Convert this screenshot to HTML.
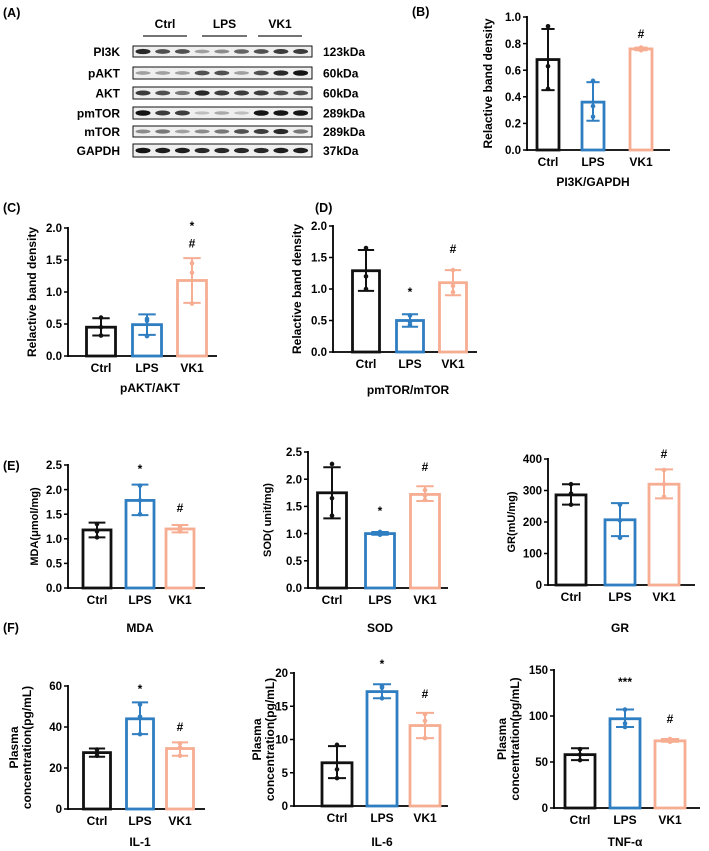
<!DOCTYPE html>
<html><head><meta charset="utf-8"><style>
html,body{margin:0;padding:0;background:#fff;}
svg{display:block;font-family:"Liberation Sans",Arial,sans-serif;font-weight:bold;}
</style></head><body>
<svg id="fig" width="709" height="851" viewBox="0 0 709 851" xmlns="http://www.w3.org/2000/svg">
<g id="blot"></g>
<g id="charts"></g>
</svg>
<script>
// ---------- data ----------
const categories = ["Ctrl", "LPS", "VK1"];
const colors = ["#111111", "#2f7ec1", "#f6ad92"];

const pi3kMean = [0.68, 0.36, 0.76];
const pi3kLo = [0.45, 0.22, 0.75];
const pi3kHi = [0.91, 0.51, 0.77];
const pi3kPts = [[0.93, 0.63, 0.46], [0.52, 0.33, 0.25], [0.77, 0.76, 0.75]];

const paktMean = [0.45, 0.49, 1.18];
const paktLo = [0.32, 0.33, 0.83];
const paktHi = [0.59, 0.65, 1.53];
const paktPts = [[0.60, 0.45, 0.32], [0.58, 0.55, 0.31], [1.45, 1.30, 0.82]];

const mtorMean = [1.29, 0.50, 1.10];
const mtorLo = [0.97, 0.40, 0.90];
const mtorHi = [1.62, 0.60, 1.30];
const mtorPts = [[1.65, 1.20, 1.00], [0.58, 0.48, 0.43], [1.30, 1.05, 0.95]];

const mdaMean = [1.18, 1.78, 1.20];
const mdaLo = [1.03, 1.48, 1.13];
const mdaHi = [1.33, 2.10, 1.28];
const mdaPts = [[1.30, 1.15, 1.03], [2.08, 1.78, 1.50], [1.25, 1.20, 1.15]];

const sodMean = [1.75, 1.00, 1.72];
const sodLo = [1.28, 0.98, 1.60];
const sodHi = [2.22, 1.03, 1.87];
const sodPts = [[2.28, 1.65, 1.33], [1.03, 1.00, 0.98], [1.80, 1.70, 1.62]];

const grMean = [286, 207, 320];
const grLo = [255, 155, 275];
const grHi = [320, 260, 367];
const grPts = [[320, 290, 255], [255, 205, 150], [365, 320, 280]];

const il1Mean = [27.5, 44, 29.5];
const il1Lo = [25.5, 36.5, 26];
const il1Hi = [29.5, 52, 32.5];
const il1Pts = [[29, 26, 27.5], [51, 45, 36.5], [32, 30, 26]];

const il6Mean = [6.5, 17.2, 12.1];
const il6Lo = [4.2, 16.2, 10.2];
const il6Hi = [9.0, 18.3, 14.0];
const il6Pts = [[9.2, 5.5, 4.2], [18.0, 17.8, 16.2], [13.8, 12.8, 10.2]];

const tnfMean = [58, 97, 73];
const tnfLo = [52, 88, 72];
const tnfHi = [65, 107, 75];
const tnfPts = [[64, 58, 52], [107, 92, 88], [75, 73, 72]];

const ticks1 = [0, 0.2, 0.4, 0.6, 0.8, 1.0];
const ticks2 = [0, 0.5, 1.0, 1.5, 2.0];
const ticks25 = [0, 0.5, 1.0, 1.5, 2.0, 2.5];
const ticks400 = [0, 100, 200, 300, 400];
const ticks60 = [0, 20, 40, 60];
const ticks20 = [0, 5, 10, 15, 20];
const ticks150 = [0, 50, 100, 150];

// annotations: [category index, text, value level]
const pi3kAnn = [[2, "#", 0.88]];
const paktAnn = [[2, "#", 1.77], [2, "*", 2.05]];
const mtorAnn = [[1, "*", 0.97], [2, "#", 1.65]];
const mdaAnn = [[1, "*", 2.44], [2, "#", 1.65]];
const sodAnn = [[1, "*", 1.43], [2, "#", 2.24]];
const grAnn = [[2, "#", 419]];
const il1Ann = [[1, "*", 59], [2, "#", 40.5]];
const il6Ann = [[1, "*", 21.5], [2, "#", 17]];
const tnfAnn = [[1, "***", 138], [2, "#", 98]];

const NS = "http://www.w3.org/2000/svg";
function mk(tag, attrs, parent, text) {
  const e = document.createElementNS(NS, tag);
  for (const k in attrs) e.setAttribute(k, attrs[k]);
  if (text !== undefined) e.textContent = text;
  parent.appendChild(e);
  return e;
}

// ---------- blot ----------
const blot = document.getElementById("blot");
const lbl = mk("text", {x: 3, y: 17, "font-size": 12.5}, blot, "(A)");


const groups = [["Ctrl", 143, 187], ["LPS", 202, 247], ["VK1", 258, 302]];
groups.forEach(g => {
  const t = mk("text", {x: (g[1] + g[2]) / 2, y: 28, "font-size": 12, "text-anchor": "middle"}, blot, g[0]);
  
  
  const l = mk("line", {x1: g[1], x2: g[2], y1: 36, y2: 36, stroke: "#222", "stroke-width": 1.2}, blot);
  
  
});
const rows = [
  ["PI3K", "123kDa", 46, 57, [0.9,0.7,0.7,0.3,0.4,0.6,0.7,0.8,0.8]],
  ["pAKT", "60kDa", 67, 79, [0.3,0.3,0.3,0.7,0.7,0.3,0.7,0.9,1.0]],
  ["AKT", "60kDa", 87, 99, [0.8,0.7,0.5,0.9,0.8,0.8,0.8,0.7,0.7]],
  ["pmTOR", "289kDa", 107, 119, [1.0,0.8,0.8,0.15,0.25,0.15,1.0,1.0,1.0]],
  ["mTOR", "289kDa", 126, 137, [0.4,0.5,0.3,0.4,0.5,0.7,0.8,0.9,0.5]],
  ["GAPDH", "37kDa", 144, 157, [1.0,0.95,0.95,0.9,0.9,0.9,0.9,0.95,0.95]]
];
rows.forEach(r => {
  const yc = (r[2] + r[3]) / 2;
  const t = mk("text", {x: 120, y: yc + 4.5, "font-size": 12, "text-anchor": "end"}, blot, r[0]);
  
  
  const k = mk("text", {x: 323, y: yc + 4.5, "font-size": 12}, blot, r[1]);
  
  
  const box = mk("rect", {x: 133, y: r[2], width: 179, height: r[3] - r[2], fill: "#efefef", stroke: "#111", "stroke-width": 1}, blot);
  
  
  r[4].forEach((v, i) => {
    const cx = 143 + i * 19.7;
    const g = Math.round(220 - v * 200);
    const b = mk("ellipse", {cx: cx, cy: yc, rx: 7.5, ry: 1.4 + v * 1.4, fill: `rgb(${g},${g},${g})`}, blot);
    
    
  });
});

// ---------- charts ----------
const charts = document.getElementById("charts");
function chart(o) {
  const g = mk("g", {}, charts);
  
  
  const Y = v => o.y0 - (v / o.max) * (o.y0 - o.yt);
  const X = i => o.xs[i];
  const ya = mk("line", {x1: o.ax, x2: o.ax, y1: o.yt - 1, y2: o.y0 + 1, stroke: "#000", "stroke-width": 1.8}, g);
  
  
  const xa = mk("line", {x1: o.ax, x2: o.xend, y1: o.y0, y2: o.y0, stroke: "#000", "stroke-width": 1.8}, g);
  
  
  o.ticks.forEach(t => {
    const tl = mk("line", {x1: o.ax - 4, x2: o.ax, y1: Y(t), y2: Y(t), stroke: "#000", "stroke-width": 1.5}, g);
    
    
    const tx = mk("text", {x: o.ax - 6, y: Y(t) + 4.2, "font-size": 11.5, "text-anchor": "end"}, g, o.fmt(t));
    
    
  });
  categories.forEach((c, i) => {
    const col = colors[i];
    const bar = mk("rect", {x: X(i) - o.bw / 2, y: Y(o.mean[i]), width: o.bw, height: o.y0 - Y(o.mean[i]), fill: "#fff", stroke: col, "stroke-width": 2.8}, g);
    
    
    const cw = o.bw * 0.3;
    const e1 = mk("line", {x1: X(i), x2: X(i), y1: Y(o.lo[i]), y2: Y(o.hi[i]), stroke: col, "stroke-width": 2}, g);
    
    
    [o.lo[i], o.hi[i]].forEach(v => {
      const cap = mk("line", {x1: X(i) - cw, x2: X(i) + cw, y1: Y(v), y2: Y(v), stroke: col, "stroke-width": 2}, g);
      
      
    });
    o.pts[i].forEach(v => {
      const p = mk("circle", {cx: X(i), cy: Y(v), r: 2.3, fill: col}, g);
      
      
    });
    const cl = mk("text", {x: X(i), y: o.y0 + 16, "font-size": 12, "text-anchor": "middle"}, g, c);
    
    
  });
  o.ann.forEach(a => {
    const t = mk("text", {x: X(a[0]), y: Y(a[2]) + 5, "font-size": 12, "text-anchor": "middle"}, g, a[1]);
    
    
  });
  const tt = mk("text", {x: o.tx, y: o.ty, "font-size": 12, "text-anchor": "middle"}, g, o.title);
  
  
  const yc = (o.y0 + o.yt) / 2;
  o.ylab.forEach((l, k) => {
    const yl = mk("text", {x: 0, y: 0, "font-size": o.ylfs || 12, "text-anchor": "middle", transform: `translate(${o.ylx[k]},${yc}) rotate(-90)`}, g, l);
    
    
  });
  if (o.panel) {
    const pl = mk("text", {x: o.panel[1], y: o.panel[2], "font-size": 12.5}, g, o.panel[0]);
    
    
  }
}
const f1 = v => v.toFixed(1);
const f0 = v => String(v);
const RBD = ["Relactive band density"];

chart({name: "chart-pi3k", ax: 527, y0: 150, yt: 17, max: 1.0, ticks: ticks1, fmt: f1, xs: [548, 593, 641], bw: 22, xend: 670,
  mean: pi3kMean, lo: pi3kLo, hi: pi3kHi, pts: pi3kPts, ann: pi3kAnn, title: "PI3K/GAPDH", tx: 593, ty: 186, ylab: RBD, ylx: [492], panel: ["(B)", 412, 16]});
chart({name: "chart-pakt", ax: 68, y0: 356, yt: 228, max: 2.0, ticks: ticks2, fmt: f1, xs: [101, 147, 192], bw: 29, xend: 217,
  mean: paktMean, lo: paktLo, hi: paktHi, pts: paktPts, ann: paktAnn, title: "pAKT/AKT", tx: 150, ty: 392, ylab: RBD, ylx: [36], panel: ["(C)", 3, 212]});
chart({name: "chart-mtor", ax: 333, y0: 352, yt: 226, max: 2.0, ticks: ticks2, fmt: f1, xs: [366, 410, 453], bw: 27, xend: 477,
  mean: mtorMean, lo: mtorLo, hi: mtorHi, pts: mtorPts, ann: mtorAnn, title: "pmTOR/mTOR", tx: 408, ty: 394, ylab: RBD, ylx: [301], panel: ["(D)", 315, 212]});
chart({name: "chart-mda", ax: 68, y0: 588, yt: 465, max: 2.5, ticks: ticks25, fmt: f1, xs: [97, 140, 180], bw: 28, xend: 205,
  mean: mdaMean, lo: mdaLo, hi: mdaHi, pts: mdaPts, ann: mdaAnn, title: "MDA", tx: 140, ty: 632, ylab: ["MDA(μmol/mg)"], ylx: [38], ylfs: 11, panel: ["(E)", 3, 470]});
chart({name: "chart-sod", ax: 308, y0: 588, yt: 452, max: 2.5, ticks: ticks25, fmt: f1, xs: [332, 380, 425], bw: 29, xend: 448,
  mean: sodMean, lo: sodLo, hi: sodHi, pts: sodPts, ann: sodAnn, title: "SOD", tx: 380, ty: 632, ylab: ["SOD( unit/mg)"], ylx: [271], ylfs: 11});
chart({name: "chart-gr", ax: 548, y0: 585, yt: 459, max: 400, ticks: ticks400, fmt: f0, xs: [571, 620, 664], bw: 30, xend: 695,
  mean: grMean, lo: grLo, hi: grHi, pts: grPts, ann: grAnn, title: "GR", tx: 620, ty: 632, ylab: ["GR(mU/mg)"], ylx: [515], ylfs: 11});
const PC = ["Plasma", "concentration(pg/mL)"];
chart({name: "chart-il1", ax: 68, y0: 809, yt: 686, max: 60, ticks: ticks60, fmt: f0, xs: [97, 140, 180], bw: 27, xend: 205,
  mean: il1Mean, lo: il1Lo, hi: il1Hi, pts: il1Pts, ann: il1Ann, title: "IL-1", tx: 140, ty: 846, ylab: PC, ylx: [18, 31], panel: ["(F)", 3, 632]});
chart({name: "chart-il6", ax: 294, y0: 806, yt: 673, max: 20, ticks: ticks20, fmt: f0, xs: [337, 382, 425], bw: 30, xend: 448,
  mean: il6Mean, lo: il6Lo, hi: il6Hi, pts: il6Pts, ann: il6Ann, title: "IL-6", tx: 382, ty: 846, ylab: PC, ylx: [261, 274]});
chart({name: "chart-tnf", ax: 554, y0: 808, yt: 670, max: 150, ticks: ticks150, fmt: f0, xs: [580, 625, 670], bw: 30, xend: 700,
  mean: tnfMean, lo: tnfLo, hi: tnfHi, pts: tnfPts, ann: tnfAnn, title: "TNF-α", tx: 625, ty: 846, ylab: PC, ylx: [506, 519]});
</script>
</body></html>
